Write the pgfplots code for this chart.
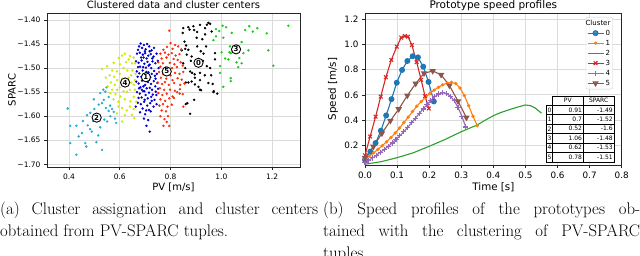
\documentclass[border=0pt]{standalone}
\usepackage{fontspec}
\usepackage{pgfplots}
\pgfplotsset{compat=1.18}
\newfontfamily\dv{DejaVu Sans}
\newcommand{\fs}[1]{\fontsize{#1}{#1}\selectfont}
\definecolor{kzero}{RGB}{0,0,0}
\definecolor{kone}{RGB}{0,0,210}
\definecolor{ktwo}{RGB}{30,175,210}
\definecolor{kthree}{RGB}{30,200,30}
\definecolor{kfour}{RGB}{205,235,0}
\definecolor{kfive}{RGB}{255,45,10}
\definecolor{tb}{HTML}{1F77B4}
\definecolor{to}{HTML}{FF7F0E}
\definecolor{tg}{HTML}{2CA02C}
\definecolor{tr}{HTML}{D62728}
\definecolor{tp}{HTML}{9467BD}
\definecolor{tbr}{HTML}{8C564B}
\pgfplotsset{
  mpl/.style={scale only axis,
    axis line style={line width=0.8pt, black!85},
    grid=major, grid style={line width=0.9pt, color=black!14},
    tick align=outside, major tick length=3pt,
    tick style={black!85, line width=0.7pt},
    xtick pos=bottom, ytick pos=left},
  legend image code/.code={\draw[mark repeat=2,mark phase=2,#1] plot coordinates {(0pt,0pt) (8pt,0pt) (16pt,0pt)};}
}
\begin{document}
\begin{tikzpicture}
\path[use as bounding box] (0pt,0pt) rectangle (640pt,-255pt);
\clip (0pt,0pt) rectangle (640pt,-255pt);

% ---------------- left: scatter ----------------
\begin{axis}[mpl, at={(47pt,-167pt)}, anchor=south west,
  width=253pt, height=154pt,
  xmin=0.3133, xmax=1.310, ymin=-1.7056, ymax=-1.3855,
  xtick={0.4,0.6,0.8,1.0,1.2}, xticklabels={0.4,0.6,0.8,1.0,1.2},
  ytick={-1.70,-1.65,-1.60,-1.55,-1.50,-1.45,-1.40},
  yticklabels={−1.70,−1.65,−1.60,−1.55,−1.50,−1.45,−1.40},
  ticklabel style={font=\dv\fs{7.5}},
  title={Clustered data and cluster centers},
  title style={font=\dv\fs{10}, at={(0.5,1)}, anchor=base, yshift=-1.6pt, inner sep=0pt},
  xlabel={PV [m/s]}, ylabel={SPARC},
  xlabel style={font=\dv\fs{10}, at={(axis description cs:0.5,-0.13)}, anchor=center, inner sep=0pt},
  ylabel style={font=\dv\fs{10}, at={(axis description cs:-0.138,0.5)}, anchor=center, inner sep=0pt},
]
\addplot[only marks, mark=*, mark size=1pt, color=kzero] table {
0.850 -1.417
0.848 -1.427
0.870 -1.415
0.890 -1.413
0.875 -1.420
0.893 -1.421
0.916 -1.410
0.936 -1.417
0.949 -1.406
0.956 -1.408
0.943 -1.410
0.962 -1.424
0.903 -1.437
0.936 -1.430
0.861 -1.453
0.858 -1.460
0.870 -1.462
0.844 -1.463
0.864 -1.472
0.883 -1.476
0.919 -1.465
0.930 -1.470
0.975 -1.469
0.975 -1.482
0.943 -1.496
0.956 -1.500
0.877 -1.507
0.885 -1.510
0.895 -1.513
0.916 -1.510
0.896 -1.520
0.883 -1.528
0.916 -1.525
0.870 -1.530
0.896 -1.534
0.910 -1.539
0.920 -1.546
0.949 -1.531
0.966 -1.533
0.970 -1.548
0.860 -1.530
0.916 -1.545
0.969 -1.550
0.984 -1.553
0.893 -1.566
0.866 -1.573
0.860 -1.575
0.877 -1.595
0.850 -1.490
0.858 -1.500
0.880 -1.485
0.928 -1.485
0.940 -1.455
0.905 -1.455
0.935 -1.515
0.960 -1.515
0.855 -1.445
0.905 -1.425
0.925 -1.440
};
\addplot[only marks, mark=*, mark size=1pt, color=kone] table {
0.682 -1.449
0.695 -1.452
0.708 -1.450
0.716 -1.455
0.688 -1.458
0.672 -1.462
0.702 -1.461
0.725 -1.463
0.735 -1.458
0.668 -1.470
0.679 -1.468
0.691 -1.472
0.700 -1.469
0.712 -1.474
0.722 -1.471
0.733 -1.476
0.745 -1.470
0.684 -1.478
0.706 -1.480
0.664 -1.486
0.674 -1.489
0.686 -1.484
0.697 -1.491
0.709 -1.487
0.718 -1.493
0.729 -1.486
0.740 -1.490
0.750 -1.485
0.680 -1.497
0.703 -1.499
0.724 -1.500
0.667 -1.507
0.677 -1.511
0.690 -1.505
0.713 -1.509
0.735 -1.506
0.746 -1.512
0.685 -1.518
0.698 -1.514
0.720 -1.519
0.741 -1.522
0.665 -1.528
0.674 -1.532
0.688 -1.526
0.700 -1.535
0.711 -1.529
0.723 -1.533
0.734 -1.527
0.748 -1.531
0.681 -1.540
0.706 -1.542
0.727 -1.545
0.668 -1.550
0.679 -1.553
0.692 -1.548
0.702 -1.556
0.715 -1.551
0.730 -1.555
0.742 -1.549
0.686 -1.561
0.710 -1.563
0.737 -1.566
0.671 -1.572
0.683 -1.575
0.696 -1.570
0.708 -1.578
0.720 -1.573
0.733 -1.580
0.690 -1.584
0.715 -1.587
0.745 -1.575
0.700 -1.596
0.722 -1.590
0.712 -1.608
0.695 -1.605
0.718 -1.632
0.705 -1.620
0.680 -1.592
0.663 -1.580
0.676 -1.455
0.699 -1.465
0.718 -1.465
0.728 -1.480
0.694 -1.478
0.714 -1.495
0.692 -1.498
0.672 -1.498
0.705 -1.508
0.726 -1.512
0.753 -1.500
0.670 -1.518
0.694 -1.523
0.716 -1.524
0.738 -1.516
0.676 -1.542
0.693 -1.538
0.718 -1.541
0.740 -1.538
0.697 -1.548
0.724 -1.560
0.674 -1.562
0.698 -1.566
0.726 -1.568
0.704 -1.588
0.687 -1.545
0.751 -1.543
0.744 -1.556
};
\addplot[only marks, mark=*, mark size=1pt, color=ktwo] table {
0.395 -1.584
0.405 -1.620
0.429 -1.620
0.405 -1.656
0.429 -1.680
0.438 -1.642
0.451 -1.635
0.464 -1.656
0.468 -1.663
0.474 -1.619
0.483 -1.627
0.490 -1.632
0.471 -1.598
0.484 -1.593
0.495 -1.610
0.508 -1.654
0.530 -1.670
0.523 -1.623
0.539 -1.607
0.550 -1.611
0.563 -1.600
0.556 -1.589
0.576 -1.591
0.586 -1.614
0.517 -1.576
0.530 -1.573
0.537 -1.566
0.523 -1.552
0.543 -1.549
0.556 -1.560
0.562 -1.578
0.570 -1.585
0.545 -1.583
0.500 -1.585
0.535 -1.545
0.548 -1.540
0.581 -1.605
0.515 -1.640
0.455 -1.610
0.498 -1.565
};
\addplot[only marks, mark=*, mark size=1pt, color=kthree] table {
1.005 -1.412
1.019 -1.415
0.979 -1.419
0.992 -1.423
0.979 -1.434
1.008 -1.437
1.041 -1.427
1.094 -1.421
1.110 -1.413
1.124 -1.424
1.142 -1.417
1.179 -1.428
1.264 -1.412
0.969 -1.442
1.080 -1.446
1.034 -1.455
1.001 -1.467
1.032 -1.467
1.037 -1.469
1.045 -1.466
1.028 -1.482
1.071 -1.479
1.087 -1.469
1.107 -1.463
1.185 -1.463
1.067 -1.498
1.080 -1.490
0.995 -1.496
0.995 -1.510
1.205 -1.495
1.037 -1.521
1.037 -1.527
1.008 -1.539
1.060 -1.488
1.015 -1.480
};
\addplot[only marks, mark=*, mark size=1pt, color=kfour] table {
0.530 -1.502
0.550 -1.496
0.576 -1.489
0.596 -1.479
0.609 -1.474
0.635 -1.482
0.648 -1.490
0.589 -1.507
0.615 -1.500
0.635 -1.520
0.655 -1.535
0.620 -1.470
0.640 -1.475
0.655 -1.478
0.660 -1.490
0.625 -1.488
0.600 -1.492
0.570 -1.505
0.560 -1.515
0.545 -1.520
0.578 -1.518
0.600 -1.512
0.630 -1.505
0.650 -1.505
0.662 -1.512
0.645 -1.515
0.612 -1.522
0.590 -1.525
0.565 -1.530
0.552 -1.538
0.580 -1.535
0.600 -1.540
0.645 -1.530
0.660 -1.545
0.640 -1.545
0.615 -1.548
0.590 -1.545
0.570 -1.545
0.563 -1.552
0.583 -1.554
0.602 -1.559
0.628 -1.549
0.642 -1.569
0.655 -1.560
0.620 -1.565
0.595 -1.570
0.575 -1.565
0.609 -1.583
0.628 -1.588
0.648 -1.597
0.657 -1.604
0.609 -1.611
0.589 -1.594
0.595 -1.580
0.640 -1.580
0.655 -1.585
0.620 -1.598
0.665 -1.570
0.660 -1.525
0.605 -1.530
};
\addplot[only marks, mark=*, mark size=1pt, color=kfive] table {
0.795 -1.422
0.800 -1.448
0.818 -1.452
0.830 -1.455
0.786 -1.456
0.808 -1.460
0.772 -1.462
0.842 -1.461
0.760 -1.470
0.778 -1.468
0.792 -1.472
0.805 -1.469
0.820 -1.474
0.835 -1.471
0.765 -1.480
0.784 -1.478
0.812 -1.481
0.828 -1.483
0.752 -1.488
0.770 -1.490
0.797 -1.489
0.815 -1.492
0.840 -1.488
0.760 -1.497
0.780 -1.499
0.806 -1.500
0.825 -1.498
0.848 -1.495
0.755 -1.508
0.770 -1.512
0.800 -1.515
0.818 -1.510
0.835 -1.512
0.850 -1.508
0.762 -1.520
0.783 -1.522
0.808 -1.525
0.828 -1.521
0.844 -1.524
0.750 -1.530
0.767 -1.533
0.778 -1.529
0.793 -1.535
0.814 -1.531
0.838 -1.535
0.855 -1.532
0.758 -1.542
0.775 -1.545
0.798 -1.545
0.817 -1.547
0.837 -1.544
0.752 -1.552
0.768 -1.556
0.785 -1.553
0.808 -1.559
0.826 -1.550
0.848 -1.554
0.760 -1.565
0.779 -1.568
0.795 -1.563
0.813 -1.562
0.836 -1.553
0.756 -1.578
0.770 -1.575
0.788 -1.580
0.805 -1.576
0.850 -1.580
0.765 -1.588
0.782 -1.590
0.760 -1.600
0.772 -1.620
0.785 -1.612
0.790 -1.600
0.795 -1.620
0.776 -1.606
};
\addplot[only marks, mark=*, mark size=4.6pt,
  mark options={fill=white, draw=black, line width=0.9pt},
  point meta=explicit symbolic, nodes near coords,
  every node near coord/.append style={anchor=center, inner sep=0pt, font=\dv\bfseries\fs{7}, text=black}]
  coordinates {(0.910,-1.489)[0] (0.703,-1.519)[1] (0.509,-1.603)[2] (1.058,-1.461)[3] (0.621,-1.530)[4] (0.785,-1.507)[5]};
\end{axis}

% ---------------- right: speed profiles ----------------
\begin{axis}[mpl, at={(365pt,-165pt)}, anchor=south west,
  width=256.7pt, height=152pt,
  xmin=0, xmax=0.8, ymin=0.0437, ymax=1.25,
  xtick={0,0.1,0.2,0.3,0.4,0.5,0.6,0.7,0.8},
  xticklabels={0.0,0.1,0.2,0.3,0.4,0.5,0.6,0.7,0.8},
  ytick={0.2,0.4,0.6,0.8,1.0,1.2}, yticklabels={0.2,0.4,0.6,0.8,1.0,1.2},
  ticklabel style={font=\dv\fs{8.8}},
  title={Prototype speed profiles},
  title style={font=\dv\fs{10.5}, at={(0.5,1)}, anchor=base, yshift=-1.6pt, inner sep=0pt},
  xlabel={Time [s]}, ylabel={Speed [m/s]},
  xlabel style={font=\dv\fs{10.3}, at={(axis description cs:0.5,-0.145)}, anchor=center, inner sep=0pt},
  ylabel style={font=\dv\fs{10.3}, at={(axis description cs:-0.125,0.5)}, anchor=center, inner sep=0pt},
  legend style={at={(0.966,0.974)}, anchor=north east, font=\dv\fs{7},
    draw=black!20, rounded corners=2pt, fill=white, fill opacity=0.8, text opacity=1,
    inner sep=1pt, nodes={inner sep=1.6pt, text height=5.3pt, text depth=1.5pt}},
  legend cell align=left,
]
\addlegendimage{empty legend}\addlegendentry{\phantom{0}}
\addplot[color=tb, line width=1.1pt, mark=*, mark size=2.4pt, mark options={solid, fill=tb}] coordinates {
(0,0.085) (0.0165,0.150) (0.033,0.218) (0.0495,0.316) (0.066,0.437) (0.0825,0.566) (0.099,0.697)
(0.1155,0.798) (0.132,0.869) (0.1485,0.907) (0.165,0.898) (0.1815,0.824) (0.198,0.703) (0.2145,0.548)};
\addlegendentry{0}
\addplot[color=to, line width=1.1pt, mark=*, mark size=1.1pt, mark options={solid, fill=to}] coordinates {
(0.0000,0.090) (0.0135,0.115) (0.0269,0.140) (0.0404,0.168) (0.0538,0.197) (0.0673,0.228) (0.0808,0.262)
(0.0942,0.298) (0.1077,0.337) (0.1212,0.380) (0.1346,0.424) (0.1481,0.468) (0.1615,0.510) (0.1750,0.547)
(0.1885,0.580) (0.2019,0.611) (0.2154,0.638) (0.2288,0.661) (0.2423,0.680) (0.2558,0.694) (0.2692,0.700)
(0.2827,0.690) (0.2962,0.655) (0.3096,0.595) (0.3231,0.515) (0.3365,0.430) (0.3500,0.355)};
\addlegendentry{1}
\addplot[color=tg, line width=1.1pt] coordinates {
(0,0.050) (0.05,0.070) (0.10,0.102) (0.15,0.140) (0.20,0.192) (0.25,0.247) (0.30,0.308) (0.35,0.362)
(0.375,0.400) (0.40,0.435) (0.425,0.462) (0.45,0.483) (0.475,0.503) (0.50,0.520) (0.515,0.515) (0.53,0.497) (0.55,0.455)};
\addlegendentry{2}
\addplot[color=tr, line width=1.1pt, mark=x, mark size=2.6pt, mark options={solid}] coordinates {
(0,0.120) (0.016,0.270) (0.033,0.427) (0.049,0.586) (0.065,0.740) (0.082,0.877) (0.099,0.983)
(0.113,1.055) (0.124,1.067) (0.134,1.062) (0.146,0.996) (0.161,0.860) (0.175,0.720) (0.187,0.590) (0.199,0.492)};
\addlegendentry{3}
\addplot[color=tp, line width=1.1pt, mark=+, mark size=2.6pt, mark options={solid}] coordinates {
(0.0000,0.065) (0.0121,0.082) (0.0242,0.100) (0.0362,0.122) (0.0483,0.145) (0.0604,0.168) (0.0725,0.192)
(0.0846,0.218) (0.0966,0.246) (0.1087,0.276) (0.1208,0.308) (0.1329,0.342) (0.1449,0.378) (0.1570,0.415)
(0.1691,0.452) (0.1812,0.488) (0.1933,0.523) (0.2053,0.556) (0.2174,0.585) (0.2295,0.607) (0.2416,0.617)
(0.2537,0.612) (0.2657,0.590) (0.2778,0.555) (0.2899,0.500) (0.3020,0.430) (0.3140,0.345)};
\addlegendentry{4}
\addplot[color=tbr, line width=1.1pt, mark=triangle*, mark size=2.7pt, mark options={solid, fill=tbr, rotate=180}] coordinates {
(0,0.100) (0.0263,0.190) (0.0527,0.295) (0.079,0.395) (0.105,0.487) (0.132,0.595) (0.158,0.690)
(0.184,0.772) (0.211,0.790) (0.237,0.760) (0.263,0.675) (0.290,0.550) (0.316,0.420)};
\addlegendentry{5}
\end{axis}

% legend title
\node[font=\dv\fs{7}, inner sep=0pt] at (598pt,-22.7pt) {Cluster};

% table
\begin{scope}[line width=0.6pt, font=\dv\fs{6}]
\fill[white] (546.7pt,-105.2pt) rectangle (614pt,-161.8pt);
\fill[white] (552.3pt,-96pt) rectangle (614pt,-105.2pt);
\draw (552.3pt,-96pt) rectangle (583.3pt,-105.2pt);
\draw (583.3pt,-96pt) rectangle (614pt,-105.2pt);
\node[inner sep=0pt] at (567.8pt,-100.6pt) {PV};
\node[inner sep=0pt] at (598.6pt,-100.6pt) {SPARC};
\foreach \r/\pv/\sp [count=\i from 0] in {0/0.91/-1.49,1/0.7/-1.52,2/0.52/-1.6,3/1.06/-1.48,4/0.62/-1.53,5/0.78/-1.51}{
  \pgfmathsetmacro{\yt}{-105.2-9.433*\i}
  \pgfmathsetmacro{\yb}{\yt-9.433}
  \pgfmathsetmacro{\yc}{\yt-4.716}
  \draw (546.7pt,\yt pt) rectangle (552.3pt,\yb pt);
  \draw (552.3pt,\yt pt) rectangle (583.3pt,\yb pt);
  \draw (583.3pt,\yt pt) rectangle (614pt,\yb pt);
  \node[inner sep=0pt, anchor=west] at (547.3pt,\yc pt) {\r};
  \node[inner sep=0pt, anchor=east] at (582.3pt,\yc pt) {\pv};
  \node[inner sep=0pt, anchor=east] at (613pt,\yc pt) {\sp};
}
\end{scope}

% captions
\begin{scope}[every node/.style={anchor=base west, inner sep=0pt, font=\fontsize{16.8}{22}\selectfont}]
\node at (0pt,-214.5pt) {\makebox[318pt][s]{(a) Cluster assignation and cluster centers}};
\node at (0pt,-236.5pt) {obtained from PV-SPARC tuples.};
\node at (323pt,-214.5pt) {\makebox[317pt][s]{(b) Speed profiles of the prototypes ob-}};
\node at (323pt,-236.5pt) {\makebox[317pt][s]{tained with the clustering of PV-SPARC}};
\node at (323pt,-258.5pt) {tuples.};
\end{scope}
\end{tikzpicture}
\end{document}
